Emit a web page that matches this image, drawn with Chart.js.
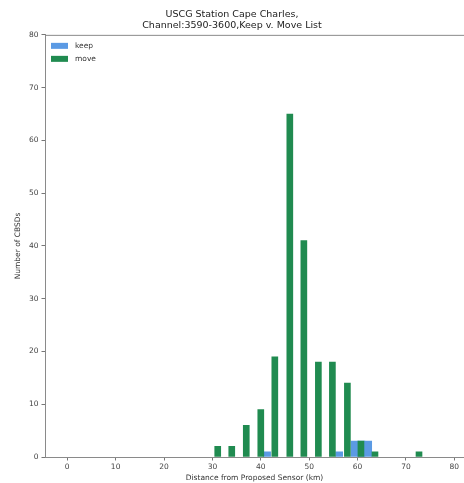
<!DOCTYPE html>
<html>
<head>
<meta charset="utf-8">
<script src="https://cdn.jsdelivr.net/npm/chart.js@4.4.1/dist/chart.umd.min.js"></script>
<style>
  body { margin: 0; background: #fff; }
  #wrap { width: 464px; height: 483px; }
</style>
</head>
<body>
<div id="wrap"><canvas id="chart" width="464" height="483"></canvas></div>
<script>
// distances (km) of bar centres and counts
const keepDist = [41.3, 56.2, 59.4, 60.8, 62.2];
const keepCount = [1, 1, 3, 3, 3];
const moveDist = [31.1, 34.0, 37.0, 40.0, 42.9, 46.0, 48.9, 51.9, 54.8, 57.9, 60.7, 63.6, 72.7];
const moveCount = [2, 2, 6, 9, 19, 65, 41, 18, 18, 14, 3, 1, 1];
const xTicks = [0, 10, 20, 30, 40, 50, 60, 70, 80];
const yTicks = [0, 10, 20, 30, 40, 50, 60, 70, 80];

const tickFont = { family: "DejaVu Sans", size: 7.5 };

// top spine + legend drawn inside the axes, matplotlib style
const extras = {
    id: "extras",
    afterDraw(chart) {
        const a = chart.chartArea;
        const ctx = chart.ctx;
        ctx.save();
        ctx.strokeStyle = "#8a8a8a";
        ctx.lineWidth = 1;
        ctx.beginPath();
        ctx.moveTo(a.left, a.top + 0.5);
        ctx.lineTo(a.right, a.top + 0.5);
        ctx.stroke();

        ctx.font = "7.5px 'DejaVu Sans'";
        ctx.textBaseline = "middle";
        chart.data.datasets.forEach((ds, i) => {
            const y = a.top + 11 + i * 13;
            ctx.fillStyle = ds.backgroundColor;
            ctx.fillRect(a.left + 6, y - 3, 17, 6);
            ctx.fillStyle = "#333";
            ctx.fillText(ds.label, a.left + 30, y);
        });
        ctx.restore();
    }
};

new Chart(document.getElementById("chart"), {
    type: "bar",
    data: {
        datasets: [
            {
                label: "keep",
                data: keepDist.map((d, i) => ({ x: d, y: keepCount[i] })),
                backgroundColor: "#5b9ae4",
                barThickness: 7,
                grouped: false,
                order: 1
            },
            {
                label: "move",
                data: moveDist.map((d, i) => ({ x: d, y: moveCount[i] })),
                backgroundColor: "#208b50",
                barThickness: 6,
                grouped: false,
                order: 0
            }
        ]
    },
    options: {
        responsive: false,
        animation: false,
        layout: { padding: { top: 0, right: 0, bottom: 0, left: 0 } },
        plugins: {
            title: {
                display: true,
                text: ["USCG Station Cape Charles,", "Channel:3590-3600,Keep v. Move List"],
                color: "#222",
                font: { family: "DejaVu Sans", size: 9.5, weight: "normal", lineHeight: 1.15 },
                padding: { top: 9, bottom: 4 }
            },
            legend: { display: false },
            tooltip: { enabled: false }
        },
        scales: {
            x: {
                type: "linear",
                offset: false,
                min: -4.6,
                max: 82,
                afterBuildTicks: (s) => { s.ticks = xTicks.map(v => ({ value: v })); },
                afterFit: (s) => { s.height = 26; },
                ticks: { includeBounds: false, color: "#444", font: tickFont, padding: 2, maxRotation: 0 },
                grid: { drawOnChartArea: false, offset: false, tickLength: 3.5, color: "#777" },
                border: { color: "#8a8a8a" },
                title: {
                    display: true,
                    text: "Distance from Proposed Sensor (km)",
                    color: "#333",
                    font: { family: "DejaVu Sans", size: 7.5 },
                    padding: { top: 0, bottom: 0 }
                }
            },
            y: {
                min: 0,
                max: 80,
                afterBuildTicks: (s) => { s.ticks = yTicks.map(v => ({ value: v })); },
                afterFit: (s) => { s.width = 45; },
                ticks: { color: "#444", font: tickFont, padding: 3 },
                grid: { drawOnChartArea: false, tickLength: 3.5, color: "#777" },
                border: { color: "#8a8a8a" },
                title: {
                    display: true,
                    text: "Number of CBSDs",
                    color: "#333",
                    font: { family: "DejaVu Sans", size: 7.5 },
                    padding: { top: 14, bottom: 4 }
                }
            }
        }
    },
    plugins: [extras]
});
</script>
</body>
</html>
